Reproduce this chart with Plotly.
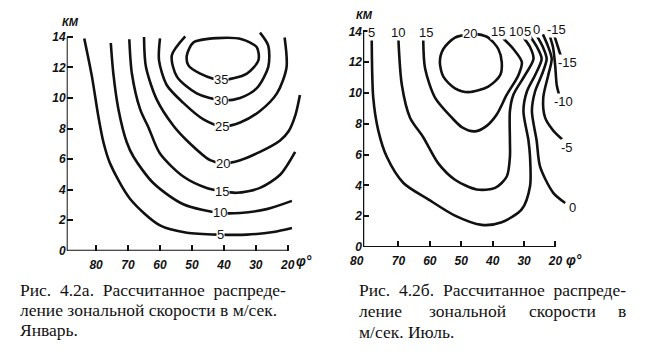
import plotly.graph_objects as go

# ---------------- January (Рис. 4.2а) : isolines (latitude φ, height km) ----------------
JAN_05_PHI = [83.7, 81.3, 79.3, 77.7, 75.6, 69.4, 60.0, 51.6, 41.2, 32.8, 24.5, 18.7]
JAN_05_KM = [13.9, 11.4, 8.8, 7.1, 5.7, 3.4, 1.65, 1.18, 1.05, 1.05, 1.22, 1.48]
JAN_10_PHI = [75.4, 74.6, 73.0, 70.4, 68.3, 62.1, 52.7, 41.2, 34.9, 26.6, 18.7]
JAN_10_KM = [13.6, 11.6, 9.25, 7.1, 6.15, 4.43, 3.04, 2.47, 2.47, 2.72, 3.26]
JAN_15_PHI = [69.6, 68.8, 66.2, 63.6, 60.0, 52.7, 45.4, 40.7, 36.0, 28.7, 22.4, 17.7]
JAN_15_KM = [13.85, 11.6, 9.25, 8.07, 6.36, 4.86, 4.11, 3.9, 3.79, 4.11, 4.97, 6.47]
JAN_20_PHI = [65.0, 64.4, 61.0, 55.8, 51.6, 44.3, 40.2, 34.9, 28.7, 22.4, 19.8, 17.6, 16.2]
JAN_20_KM = [14.0, 12.04, 9.89, 8.18, 7.22, 5.93, 5.72, 5.93, 6.47, 7.22, 7.8, 8.9, 10.2]
JAN_25_PHI = [60.0, 60.3, 57.9, 52.7, 46.4, 40.5, 34.9, 28.7, 23.4, 20.4, 21.0]
JAN_25_KM = [13.9, 12.46, 10.85, 9.68, 8.6, 8.14, 8.39, 9.15, 10.3, 12.0, 13.96]
JAN_30_PHI = [52.1, 56.3, 54.7, 48.5, 40.9, 34.9, 29.7, 26.1, 26.1, 28.7]
JAN_30_KM = [14.03, 12.78, 11.4, 10.3, 9.85, 10.0, 10.64, 12.04, 13.42, 14.28]
JAN_35_PHI = [51.6, 49.5, 42.2, 34.4, 29.7, 29.2, 32.8, 40.9, 47.4, 51.1, 51.6]
JAN_35_KM = [12.78, 13.64, 13.92, 13.85, 13.32, 12.46, 11.6, 11.18, 11.6, 12.14, 12.78]

JAN_LABEL_TEXT = ["5", "10", "15", "20", "25", "30", "35"]
JAN_LABEL_PHI = [41.2, 41.2, 40.7, 40.2, 40.5, 40.9, 40.9]
JAN_LABEL_KM = [1.05, 2.47, 3.9, 5.72, 8.14, 9.85, 11.18]

# ---------------- July (Рис. 4.2б) ----------------
JUL_05_PHI = [78.5, 78.0, 76.4, 73.7, 68.4, 60.5, 52.0, 43.5, 37.1, 30.7, 28.1, 28.1, 28.6, 30.2, 29.1, 26.5, 24.4, 25.9, 28.1]
JUL_05_KM = [13.7, 9.68, 7.56, 5.86, 4.16, 3.10, 2.04, 1.44, 1.61, 2.46, 3.95, 5.86, 6.92, 8.83, 10.1, 11.16, 12.22, 12.99, 13.69]
JUL_10_PHI = [70.0, 68.9, 66.3, 62.1, 57.3, 52.0, 45.1, 39.2, 35.5, 34.5, 34.5, 34.5, 33.4, 29.7, 27.0, 28.1, 30.2]
JUL_10_KM = [13.5, 10.52, 8.4, 7.13, 5.43, 4.37, 3.74, 3.84, 4.58, 5.86, 6.92, 8.83, 9.89, 11.16, 12.22, 12.99, 13.6]
JUL_15_PHI = [62.1, 61.5, 58.3, 53.0, 49.7, 45.6, 41.9, 38.7, 35.5, 31.8, 30.7, 33.4, 36.6]
JUL_15_KM = [13.5, 11.59, 9.68, 8.4, 7.77, 7.51, 7.87, 8.61, 9.89, 11.16, 12.01, 12.86, 13.54]
JUL_20_PHI = [47.2, 52.0, 55.7, 56.8, 55.7, 52.0, 47.7, 41.4, 37.6, 37.1, 38.2, 41.4, 44.6, 47.2]
JUL_20_KM = [13.81, 13.6, 12.86, 12.01, 11.06, 10.31, 10.06, 10.42, 11.16, 12.01, 12.86, 13.6, 13.81, 13.81]
JUL_00_PHI = [26.0, 24.0, 22.8, 24.4, 26.5, 27.5, 26.0, 24.9, 20.7, 16.9]
JUL_00_KM = [13.75, 12.99, 12.22, 11.16, 10.1, 8.83, 6.92, 5.22, 3.52, 2.86]
JUL_M05_PHI = [24.0, 22.4, 21.2, 22.3, 23.9, 23.3, 20.7, 17.9]
JUL_M05_KM = [13.81, 13.05, 12.22, 11.16, 9.68, 8.4, 7.56, 7.0]
JUL_M10_PHI = [22.0, 20.8, 20.1, 19.6, 18.9]
JUL_M10_KM = [13.81, 12.99, 11.8, 10.52, 9.93]
JUL_M15_PHI = [20.4, 19.5, 18.5, 17.9]
JUL_M15_KM = [13.75, 13.18, 12.54, 12.29]

JUL_LABEL_TEXT = ["5", "10", "15", "20", "15", "10", "5", "0", "-15", "-15", "-10", "-5", "0"]
JUL_LABEL_PHI = [78.7, 70.0, 61.3, 47.2, 38.2, 32.5, 29.0, 26.0, 19.8, 16.3, 17.6, 16.3, 14.7]
JUL_LABEL_KM = [13.94, 13.94, 13.94, 13.85, 14.02, 14.02, 14.02, 14.13, 14.1, 12.01, 9.48, 6.49, 2.55]

X_TICKS = [80, 70, 60, 50, 40, 30, 20]
Y_TICKS = [0, 2, 4, 6, 8, 10, 12, 14]

CAP_A = ["Рис.  4.2а.  Рассчитанное  распреде-",
         "ление зональной скорости в м/сек.",
         "Январь."]
CAP_B1 = "Рис.  4.2б.  Рассчитанное  распреде-"
CAP_B2 = ["ление", "зональной", "скорости", "в"]
CAP_B3 = "м/сек. Июль."

W, H = 650, 356

fig = go.Figure()

LINE = dict(color="#111111", width=2.6, shape="spline", smoothing=0.8)

jan = [(JAN_05_PHI, JAN_05_KM), (JAN_10_PHI, JAN_10_KM), (JAN_15_PHI, JAN_15_KM),
       (JAN_20_PHI, JAN_20_KM), (JAN_25_PHI, JAN_25_KM), (JAN_30_PHI, JAN_30_KM),
       (JAN_35_PHI, JAN_35_KM)]
jul = [(JUL_05_PHI, JUL_05_KM), (JUL_10_PHI, JUL_10_KM), (JUL_15_PHI, JUL_15_KM),
       (JUL_20_PHI, JUL_20_KM), (JUL_00_PHI, JUL_00_KM), (JUL_M05_PHI, JUL_M05_KM),
       (JUL_M10_PHI, JUL_M10_KM), (JUL_M15_PHI, JUL_M15_KM)]

for p, k in jan:
    fig.add_trace(go.Scatter(x=p, y=k, mode="lines", line=LINE, xaxis="x", yaxis="y",
                             hoverinfo="skip", showlegend=False))
for p, k in jul:
    fig.add_trace(go.Scatter(x=p, y=k, mode="lines", line=LINE, xaxis="x2", yaxis="y2",
                             hoverinfo="skip", showlegend=False))

LBL_FONT = dict(family="Liberation Sans", size=13, color="#111111")
ann = []
for t, p, k in zip(JAN_LABEL_TEXT, JAN_LABEL_PHI, JAN_LABEL_KM):
    ann.append(dict(x=p, y=k, xref="x", yref="y", text=t, showarrow=False, font=LBL_FONT,
                    bgcolor="white", borderpad=0))
for t, p, k in zip(JUL_LABEL_TEXT, JUL_LABEL_PHI, JUL_LABEL_KM):
    ann.append(dict(x=p, y=k, xref="x2", yref="y2", text=t, showarrow=False, font=LBL_FONT,
                    bgcolor="white", borderpad=0))

AX_FONT = dict(family="Liberation Sans", size=12, color="#111111", style="italic", weight="bold")


def paper_text(text, px, py, size=12, anchor="center"):
    return dict(x=px / W, y=1 - py / H, xref="paper", yref="paper", text=text, showarrow=False,
                xanchor=anchor, yanchor="middle", font=dict(AX_FONT, size=size))


# axis titles (КМ, φ°) and the "80" label of the July panel
ann += [
    paper_text("КМ", 70, 22, 11),
    paper_text("φ°", 304, 266, 14),
    paper_text("КМ", 364, 15, 11),
    paper_text("φ°", 574, 265, 14),
    paper_text("80", 357, 266, 12),
]

CAP_FONT = dict(family="Liberation Serif", size=17.5, color="#111111")
for i, line in enumerate(CAP_A):
    ann.append(dict(x=18 / W, y=1 - (296 + 20.5 * i) / H, xref="paper", yref="paper", text=line,
                    xanchor="left", yanchor="middle", showarrow=False, font=CAP_FONT))
ann.append(dict(x=357 / W, y=1 - 296 / H, xref="paper", yref="paper", text=CAP_B1,
                xanchor="left", yanchor="middle", showarrow=False, font=CAP_FONT))
b2_x = [357, 427, 527, 628]
b2_anchor = ["left", "left", "left", "right"]
for w, x, a in zip(CAP_B2, b2_x, b2_anchor):
    ann.append(dict(x=x / W, y=1 - 317 / H, xref="paper", yref="paper", text=w,
                    xanchor=a, yanchor="middle", showarrow=False, font=CAP_FONT))
ann.append(dict(x=357 / W, y=1 - 339 / H, xref="paper", yref="paper", text=CAP_B3,
                xanchor="left", yanchor="middle", showarrow=False, font=CAP_FONT))

common = dict(ticks="inside", ticklen=6, tickwidth=1.5, tickcolor="#111111", showgrid=False,
              zeroline=False, showline=False, tickfont=AX_FONT, fixedrange=True)

J_LEFT, J_RIGHT = 89.2, 14.3
U_LEFT, U_RIGHT = 81.27, 10.6

fig.update_layout(
    width=W, height=H, margin=dict(l=0, r=0, t=0, b=0),
    paper_bgcolor="white", plot_bgcolor="white",
    xaxis=dict(common, domain=[66.7 / W, 306 / W], range=[J_LEFT, J_RIGHT], anchor="y",
               tickvals=X_TICKS, ticklabelstandoff=5),
    yaxis=dict(common, domain=[1 - 255.7 / H, 1 - 28 / H], range=[0, 14.62], anchor="x",
               tickvals=Y_TICKS),
    xaxis2=dict(common, domain=[363 / W, 585 / W], range=[U_LEFT, U_RIGHT], anchor="y2",
                tickvals=X_TICKS[1:], ticklabelstandoff=5),
    yaxis2=dict(common, domain=[1 - 252 / H, 1 - 25 / H], range=[0, 14.45], anchor="x2",
                tickvals=Y_TICKS),
    annotations=ann,
    shapes=[
        dict(type="line", xref="x", yref="y", x0=J_LEFT, y0=0, x1=20, y1=0, line=dict(color="#111111", width=2)),
        dict(type="line", xref="x", yref="y", x0=J_LEFT, y0=0, x1=J_LEFT, y1=14, line=dict(color="#111111", width=2)),
        dict(type="line", xref="x2", yref="y2", x0=U_LEFT, y0=0, x1=20, y1=0, line=dict(color="#111111", width=2)),
        dict(type="line", xref="x2", yref="y2", x0=U_LEFT, y0=0, x1=U_LEFT, y1=14, line=dict(color="#111111", width=2.5)),
    ],
)

fig.write_html("out.html")
